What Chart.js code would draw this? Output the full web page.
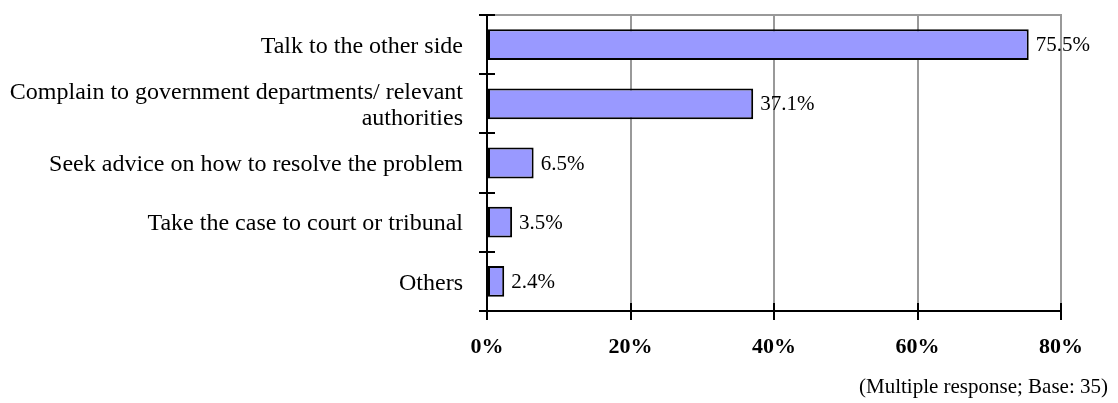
<!DOCTYPE html>
<html>
<head>
<meta charset="utf-8">
<script src="https://cdn.jsdelivr.net/npm/chart.js@4"></script>
<style>
html,body{margin:0;padding:0;background:#fff;}
#wrap{width:1118px;height:403px;position:relative;}
</style>
</head>
<body>
<div id="wrap"><canvas id="c" width="1118" height="403"></canvas></div>
<script>
const categories = [
  "Talk to the other side",
  ["Complain to government departments/ relevant", "authorities"],
  "Seek advice on how to resolve the problem",
  "Take the case to court or tribunal",
  "Others"
];
const values = [75.5, 37.1, 6.5, 3.5, 2.4];
const valueLabels = ["75.5%", "37.1%", "6.5%", "3.5%", "2.4%"];
const xTicks = [0, 20, 40, 60, 80];
const footnote = "(Multiple response; Base: 35)";

const SERIF = "'Liberation Serif', 'Times New Roman', serif";

const decor = {
  id: 'decor',
  beforeDatasetsDraw(chart) {
    const {ctx, chartArea: a} = chart;
    ctx.save();
    ctx.strokeStyle = '#999999';
    ctx.lineWidth = 2;
    ctx.beginPath();
    ctx.moveTo(a.left, a.top);
    ctx.lineTo(a.right + 1, a.top);
    ctx.stroke();
    ctx.restore();
  },
  afterDraw(chart) {
    const {ctx, chartArea: a, scales} = chart;
    ctx.save();
    ctx.strokeStyle = '#000';
    ctx.lineWidth = 2;
    xTicks.forEach(v => {
      const px = Math.round(scales.x.getPixelForValue(v));
      ctx.beginPath();
      ctx.moveTo(px, a.bottom - 8);
      ctx.lineTo(px, a.bottom + 9);
      ctx.stroke();
    });
    const n = categories.length;
    const ys = [a.top];
    for (let i = 0; i < n - 1; i++) {
      ys.push((scales.y.getPixelForValue(i) + scales.y.getPixelForValue(i + 1)) / 2);
    }
    ys.push(a.bottom);
    ys.forEach(y => {
      const py = Math.round(y);
      ctx.beginPath();
      ctx.moveTo(a.left - 8, py);
      ctx.lineTo(a.left + 8, py);
      ctx.stroke();
    });
    ctx.fillStyle = '#000';
    ctx.font = "21px " + SERIF;
    ctx.textBaseline = 'middle';
    ctx.textAlign = 'left';
    const meta = chart.getDatasetMeta(0);
    meta.data.forEach((bar, i) => {
      ctx.fillText(valueLabels[i], bar.x + 7, bar.y + 1);
    });
    ctx.font = "21px " + SERIF;
    ctx.textAlign = 'right';
    ctx.textBaseline = 'alphabetic';
    ctx.fillText(footnote, 1108, 393);
    ctx.restore();
  }
};

new Chart(document.getElementById('c'), {
  type: 'bar',
  data: {
    labels: categories,
    datasets: [{
      data: values,
      backgroundColor: '#9999FF',
      borderColor: '#000000',
      borderWidth: 2,
      borderSkipped: false,
      barPercentage: 0.52,
      categoryPercentage: 1.0
    }]
  },
  options: {
    indexAxis: 'y',
    responsive: false,
    animation: false,
    devicePixelRatio: 1,
    layout: { padding: { top: 15, right: 57, bottom: 0, left: 0 } },
    plugins: {
      legend: { display: false },
      tooltip: { enabled: false },
      title: { display: false }
    },
    scales: {
      x: {
        min: 0,
        max: 80,
        afterFit(s) { s.height = 92; s.paddingLeft = 0; s.paddingRight = 0; },
        afterBuildTicks(s) { s.ticks = xTicks.map(v => ({value: v})); },
        ticks: {
          color: '#000',
          font: { family: SERIF, size: 22, weight: 'bold' },
          padding: 23,
          maxRotation: 0,
          callback: v => v + '%'
        },
        grid: { color: '#999999', lineWidth: 2, drawTicks: false },
        border: { color: '#000', width: 2 }
      },
      y: {
        afterFit(s) { s.width = 487; s.paddingTop = 0; s.paddingBottom = 0; },
        ticks: {
          color: '#000',
          font: { family: SERIF, size: 24, lineHeight: 1.1 },
          padding: 24,
          labelOffset: 2
        },
        grid: { display: false, drawTicks: false },
        border: { color: '#000', width: 2 }
      }
    }
  },
  plugins: [decor]
});
</script>
</body>
</html>
